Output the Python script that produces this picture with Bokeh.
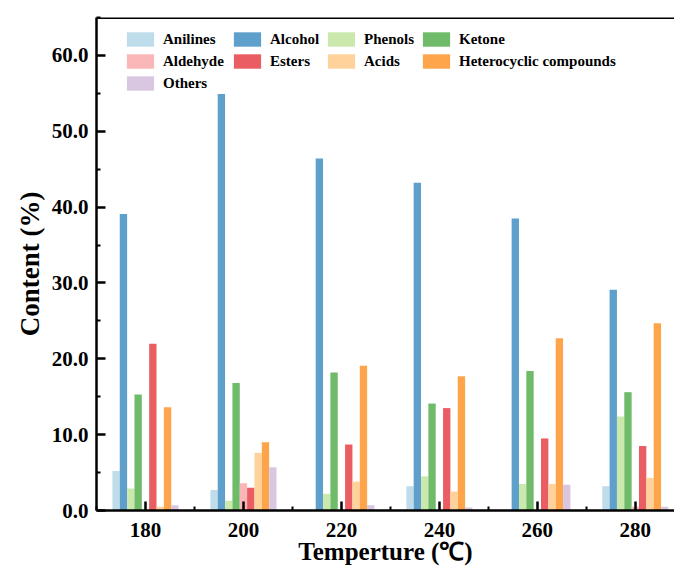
import math
from bokeh.plotting import figure
from bokeh.models import (Range1d, FixedTicker, PrintfTickFormatter, LinearAxis,
                          Legend, LegendItem, Span, ColumnDataSource)
from bokeh.embed import file_html
from bokeh.resources import INLINE

# ---- data ----
temps = [180, 200, 220, 240, 260, 280]
categories = ["Anilines", "Alcohol", "Phenols", "Ketone", "Aldehyde",
              "Esters", "Acids", "Heterocyclic compounds", "Others"]
anilines = [5.2, 2.7, 0.0, 3.2, 0.0, 3.2]
alcohol = [39.1, 54.9, 46.4, 43.2, 38.5, 29.1]
phenols = [2.9, 1.3, 2.2, 4.5, 3.5, 12.4]
ketone = [15.3, 16.8, 18.2, 14.1, 18.4, 15.6]
aldehyde = [0.0, 3.6, 0.0, 0.0, 0.0, 0.5]
esters = [22.0, 3.0, 8.7, 13.5, 9.5, 8.5]
acids = [0.5, 7.6, 3.8, 2.5, 3.5, 4.3]
heterocyclic = [13.6, 9.0, 19.1, 17.7, 22.7, 24.7]
others = [0.7, 5.7, 0.7, 0.4, 3.4, 0.5]
y_ticks = [0, 10, 20, 30, 40, 50, 60]

series = [anilines, alcohol, phenols, ketone, aldehyde, esters, acids, heterocyclic, others]
colors = ["#bfdcea", "#5f9fcb", "#cbe8ad", "#6fbb69", "#fbb6b7",
          "#ea5d63", "#fed29a", "#fea54c", "#d9c7e1"]

FONT = "Liberation Serif"
W, H = 674, 567
L, R, T, B = 96, 0, 17, 56

p = figure(width=W, height=H, output_backend="svg", toolbar_location=None,
           x_range=Range1d(170, 288), y_range=Range1d(0, 65),
           x_axis_type=None, y_axis_type=None,
           min_border_left=L, min_border_right=R, min_border_top=T, min_border_bottom=B)
p.outline_line_color = None
p.xgrid.visible = False
p.ygrid.visible = False
p.background_fill_color = "white"
p.border_fill_color = "white"

bar_w = 1.5
renderers = []
for i, (vals, col) in enumerate(zip(series, colors)):
    xs = [t + (i - 4) * bar_w for t in temps]
    src = ColumnDataSource(dict(x=xs, top=vals))
    r = p.vbar(x="x", top="top", width=bar_w, bottom=0, source=src,
               fill_color=col, line_color=None)
    renderers.append(r)

def style_axis(ax):
    ax.axis_line_width = 2.5
    ax.axis_line_color = "black"
    ax.major_tick_in = 9
    ax.major_tick_out = 0
    ax.minor_tick_in = 4
    ax.minor_tick_out = 0
    ax.major_tick_line_width = 2.5
    ax.minor_tick_line_width = 2
    ax.major_label_text_font = FONT
    ax.major_label_text_font_style = "bold"
    ax.major_label_text_font_size = "21px"
    ax.major_label_text_color = "black"
    ax.axis_label_text_font = FONT
    ax.axis_label_text_font_style = "bold"
    ax.axis_label_text_color = "black"

xa = LinearAxis(ticker=FixedTicker(ticks=temps,
                                    minor_ticks=[t - 10 for t in temps]),
                axis_label="Temperture (℃)")
style_axis(xa)
xa.major_label_standoff = 12
xa.axis_label_standoff = -2
xa.axis_label_text_font_size = "25px"
p.add_layout(xa, "below")

ya = LinearAxis(ticker=FixedTicker(ticks=y_ticks, minor_ticks=[v + 5 for v in y_ticks]),
                formatter=PrintfTickFormatter(format="%.1f"), axis_label="Content (%)")
style_axis(ya)
ya.major_label_standoff = 8
ya.axis_label_standoff = 4
ya.axis_label_text_font_size = "27px"
p.add_layout(ya, "left")

p.add_layout(Span(location=65, dimension="width", line_color="black", line_width=3))

# legend: four columns
frame_h = H - T - B
cols = [[0, 4, 8], [1, 5], [2, 6], [3, 7]]
col_x = [27, 134, 228, 323]
gh, gap = 18, 4
top_off = 14
for cx, idxs in zip(col_x, cols):
    n = len(idxs)
    lh = n * gh + (n - 1) * gap
    leg = Legend(items=[LegendItem(label=categories[k], renderers=[renderers[k]]) for k in idxs],
                 location=(cx, frame_h - top_off - lh), orientation="vertical",
                 glyph_width=34, glyph_height=gh, label_height=gh, spacing=gap,
                 label_standoff=6, padding=0, margin=0,
                 border_line_color=None, background_fill_alpha=0,
                 label_text_font=FONT, label_text_font_style="bold",
                 label_text_font_size="15px", label_text_color="black")
    p.add_layout(leg)

open("out.html", "w").write(file_html(p, INLINE))
